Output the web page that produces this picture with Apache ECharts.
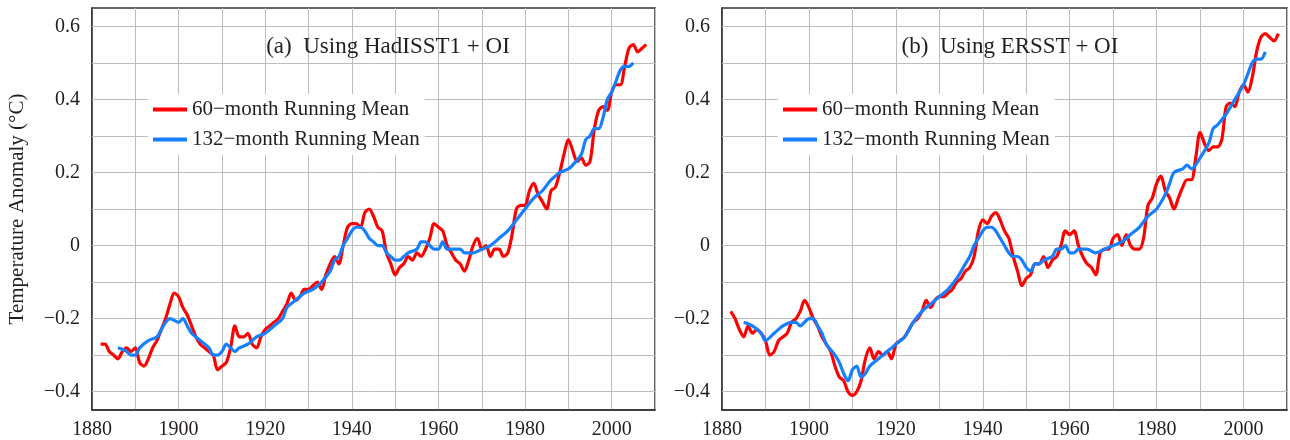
<!DOCTYPE html>
<html>
<head>
<meta charset="utf-8">
<script src="https://cdn.jsdelivr.net/npm/echarts@6/dist/echarts.min.js"></script>
<style>html,body{margin:0;padding:0;background:#fff}#main{width:1290px;height:440px}</style>
</head>
<body>
<div id="main"></div>
<script>
// panel (a): HadISST1 + OI
var redA = [[1882,-0.27],[1883,-0.27],[1884,-0.29],[1885,-0.30],[1886,-0.31],[1887,-0.29],[1888,-0.28],[1889,-0.29],[1890,-0.28],[1891,-0.32],[1892,-0.33],[1893,-0.31],[1894,-0.28],[1895,-0.26],[1896,-0.23],[1897,-0.20],[1898,-0.16],[1899,-0.13],[1900,-0.14],[1901,-0.17],[1902,-0.19],[1903,-0.22],[1904,-0.25],[1905,-0.27],[1906,-0.28],[1907,-0.29],[1908,-0.30],[1909,-0.34],[1910,-0.33],[1911,-0.32],[1912,-0.28],[1913,-0.22],[1914,-0.25],[1915,-0.25],[1916,-0.24],[1917,-0.27],[1918,-0.28],[1919,-0.25],[1920,-0.23],[1921,-0.22],[1922,-0.21],[1923,-0.20],[1924,-0.18],[1925,-0.16],[1926,-0.13],[1927,-0.15],[1928,-0.14],[1929,-0.12],[1930,-0.12],[1931,-0.11],[1932,-0.10],[1933,-0.12],[1934,-0.08],[1935,-0.05],[1936,-0.03],[1937,-0.05],[1938,0.00],[1939,0.05],[1940,0.06],[1941,0.06],[1942,0.05],[1943,0.09],[1944,0.10],[1945,0.08],[1946,0.05],[1947,0.04],[1948,-0.02],[1949,-0.05],[1950,-0.08],[1951,-0.06],[1952,-0.05],[1953,-0.03],[1954,-0.04],[1955,-0.02],[1956,-0.03],[1957,-0.01],[1958,0.02],[1959,0.06],[1960,0.05],[1961,0.04],[1962,0.00],[1963,-0.02],[1964,-0.04],[1965,-0.05],[1966,-0.07],[1967,-0.04],[1968,0.00],[1969,0.02],[1970,-0.01],[1971,0.00],[1972,-0.03],[1973,-0.01],[1974,-0.01],[1975,-0.03],[1976,-0.02],[1977,0.03],[1978,0.10],[1979,0.11],[1980,0.11],[1981,0.15],[1982,0.17],[1983,0.14],[1984,0.12],[1985,0.10],[1986,0.15],[1987,0.16],[1988,0.20],[1989,0.25],[1990,0.29],[1991,0.26],[1992,0.23],[1993,0.24],[1994,0.22],[1995,0.23],[1996,0.32],[1997,0.37],[1998,0.38],[1999,0.37],[2000,0.42],[2001,0.44],[2002,0.44],[2003,0.49],[2004,0.54],[2005,0.55],[2006,0.53],[2007,0.54],[2008,0.55]];
var blueA = [[1886,-0.28],[1888,-0.29],[1889,-0.30],[1890,-0.30],[1891,-0.28],[1893,-0.26],[1895,-0.25],[1896,-0.23],[1897,-0.21],[1898,-0.20],[1900,-0.21],[1901,-0.20],[1902,-0.22],[1903,-0.24],[1905,-0.26],[1907,-0.28],[1908,-0.30],[1909,-0.30],[1910,-0.29],[1911,-0.27],[1912,-0.28],[1913,-0.29],[1914,-0.28],[1916,-0.27],[1918,-0.25],[1920,-0.24],[1922,-0.22],[1924,-0.20],[1925,-0.17],[1927,-0.15],[1929,-0.13],[1931,-0.12],[1933,-0.10],[1935,-0.07],[1936,-0.04],[1937,-0.03],[1938,0.00],[1939,0.02],[1940,0.04],[1941,0.05],[1942,0.05],[1943,0.04],[1944,0.02],[1945,0.01],[1946,0.00],[1947,0.00],[1948,-0.02],[1949,-0.03],[1950,-0.04],[1951,-0.04],[1952,-0.03],[1953,-0.02],[1955,-0.01],[1956,0.01],[1957,0.01],[1958,0.00],[1959,-0.01],[1960,-0.01],[1961,0.01],[1962,-0.01],[1963,-0.01],[1965,-0.01],[1966,-0.02],[1968,-0.02],[1970,-0.01],[1972,0.00],[1974,0.02],[1976,0.04],[1978,0.07],[1980,0.10],[1982,0.13],[1984,0.15],[1986,0.18],[1987,0.19],[1988,0.20],[1990,0.21],[1991,0.22],[1993,0.25],[1994,0.29],[1995,0.30],[1996,0.32],[1997,0.32],[1998,0.35],[1999,0.40],[2000,0.42],[2001,0.45],[2002,0.48],[2003,0.49],[2004,0.49],[2005,0.50]];
// panel (b): ERSST + OI
var redB = [[1882,-0.18],[1883,-0.20],[1884,-0.23],[1885,-0.25],[1886,-0.22],[1887,-0.24],[1888,-0.23],[1889,-0.24],[1890,-0.26],[1891,-0.30],[1892,-0.29],[1893,-0.26],[1894,-0.25],[1895,-0.24],[1896,-0.21],[1897,-0.20],[1898,-0.18],[1899,-0.15],[1900,-0.17],[1901,-0.20],[1902,-0.22],[1903,-0.25],[1904,-0.27],[1905,-0.29],[1906,-0.33],[1907,-0.36],[1908,-0.37],[1909,-0.40],[1910,-0.41],[1911,-0.40],[1912,-0.37],[1913,-0.31],[1914,-0.28],[1915,-0.31],[1916,-0.29],[1917,-0.30],[1918,-0.29],[1919,-0.31],[1920,-0.27],[1921,-0.26],[1922,-0.25],[1923,-0.23],[1924,-0.21],[1925,-0.20],[1926,-0.18],[1927,-0.15],[1928,-0.17],[1929,-0.15],[1930,-0.14],[1931,-0.14],[1932,-0.13],[1933,-0.12],[1934,-0.10],[1935,-0.09],[1936,-0.07],[1937,-0.06],[1938,-0.03],[1939,0.04],[1940,0.07],[1941,0.06],[1942,0.08],[1943,0.09],[1944,0.07],[1945,0.04],[1946,0.02],[1947,-0.03],[1948,-0.07],[1949,-0.11],[1950,-0.09],[1951,-0.08],[1952,-0.05],[1953,-0.05],[1954,-0.03],[1955,-0.06],[1956,-0.04],[1957,-0.03],[1958,0.00],[1959,0.04],[1960,0.03],[1961,0.04],[1962,0.00],[1963,-0.03],[1964,-0.05],[1965,-0.06],[1966,-0.08],[1967,-0.02],[1968,-0.01],[1969,-0.01],[1970,0.02],[1971,0.03],[1972,0.00],[1973,0.03],[1974,0.00],[1975,-0.01],[1976,-0.01],[1977,0.02],[1978,0.11],[1979,0.13],[1980,0.17],[1981,0.19],[1982,0.15],[1983,0.13],[1984,0.10],[1985,0.13],[1986,0.16],[1987,0.18],[1988,0.18],[1989,0.24],[1990,0.31],[1991,0.28],[1992,0.26],[1993,0.27],[1994,0.27],[1995,0.29],[1996,0.38],[1997,0.39],[1998,0.38],[1999,0.42],[2000,0.44],[2001,0.42],[2002,0.46],[2003,0.53],[2004,0.57],[2005,0.58],[2006,0.57],[2007,0.56],[2008,0.58]];
var blueB = [[1885,-0.21],[1887,-0.22],[1889,-0.24],[1890,-0.26],[1892,-0.24],[1894,-0.22],[1896,-0.21],[1897,-0.21],[1898,-0.22],[1899,-0.21],[1900,-0.20],[1901,-0.20],[1902,-0.22],[1903,-0.24],[1904,-0.27],[1906,-0.30],[1907,-0.32],[1908,-0.35],[1909,-0.37],[1910,-0.34],[1911,-0.33],[1912,-0.36],[1913,-0.35],[1914,-0.33],[1916,-0.31],[1918,-0.29],[1920,-0.27],[1922,-0.25],[1924,-0.21],[1926,-0.18],[1928,-0.16],[1930,-0.14],[1932,-0.12],[1934,-0.09],[1936,-0.05],[1937,-0.03],[1938,0.00],[1939,0.02],[1940,0.04],[1941,0.05],[1942,0.05],[1943,0.04],[1944,0.02],[1945,0.00],[1946,-0.02],[1947,-0.03],[1948,-0.03],[1949,-0.04],[1950,-0.06],[1951,-0.07],[1952,-0.05],[1953,-0.05],[1954,-0.04],[1956,-0.03],[1957,-0.01],[1958,-0.01],[1959,0.00],[1960,-0.02],[1961,-0.02],[1962,-0.01],[1964,-0.01],[1966,-0.02],[1968,-0.01],[1970,0.00],[1972,0.01],[1974,0.03],[1976,0.05],[1978,0.08],[1980,0.10],[1982,0.14],[1983,0.17],[1984,0.20],[1986,0.21],[1987,0.22],[1988,0.21],[1990,0.24],[1992,0.28],[1993,0.32],[1994,0.33],[1996,0.36],[1998,0.40],[2000,0.44],[2001,0.47],[2002,0.50],[2003,0.51],[2004,0.51],[2005,0.53]];
var yGridValues = [-0.4,-0.3,-0.2,-0.1,0,0.1,0.2,0.3,0.4,0.5,0.6];
var titles = ['(a)  Using HadISST1 + OI', '(b)  Using ERSST + OI'];
var redName = '60\u2212month Running Mean', blueName = '132\u2212month Running Mean';

var font = 'Liberation Serif';
var fc = '#231f20';
function xAx(i){ return {type:'value', gridIndex:i, min:1880, max:2010, interval:10,
  axisLine:{onZero:false, lineStyle:{color:'#333',width:1.5}}, axisTick:{show:false},
  axisLabel:{fontFamily:font, fontSize:20, color:fc, margin:10, formatter:function(v){return v%20===0 && v<2010 ? v : '';}},
  splitLine:{show:true, lineStyle:{color:'#bdbdbd'}}}; }
function yAx(i){ return {type:'value', gridIndex:i, min:-0.45, max:0.65, interval:0.05,
  axisLine:{onZero:false, lineStyle:{color:'#333',width:1.5}}, axisTick:{show:false}, splitLine:{show:false},
  name: i===0 ? 'Temperature Anomaly (\u00B0C)' : '', nameLocation:'middle', nameGap:64, nameRotate:90,
  nameTextStyle:{fontFamily:font, fontSize:21, color:fc},
  axisLabel:{fontFamily:font, fontSize:20, color:fc, margin:12, formatter:function(v){
    var r=Math.round(v*100); if (r%20!==0) return ''; if (r===0) return '0'; return (r<0?'\u2212':'')+(Math.abs(r)/100).toFixed(1);}}}; }
function line(name,data,i,color,z,grid){ var s={name:name, type:'line', data:data, xAxisIndex:i, yAxisIndex:i,
  showSymbol:false, smooth:0.3, lineStyle:{color:color,width:3.2}, itemStyle:{color:color}, z:z};
  if (grid) s.markLine = {silent:true, symbol:'none', label:{show:false}, lineStyle:{color:'#bdbdbd',type:'solid',width:1},
    data: yGridValues.map(function(v){return {yAxis:v};}), z:1};
  return s; }

var chart = echarts.init(document.getElementById('main'));
chart.setOption({
  animation:false,
  grid:[{left:92, top:8, width:563, bottom:30, show:true, borderColor:'#333', borderWidth:1.5},
        {left:722, top:8, width:566, bottom:30, show:true, borderColor:'#333', borderWidth:1.5}],
  xAxis:[xAx(0), xAx(1)],
  yAxis:[yAx(0), yAx(1)],
  title:[{text:titles[0], left:383, top:30, textAlign:'center', textStyle:{fontFamily:font, fontSize:23, fontWeight:'normal', color:fc}},
         {text:titles[1], left:1005, top:30, textAlign:'center', textStyle:{fontFamily:font, fontSize:23, fontWeight:'normal', color:fc}}],
  legend:[{left:148, top:94, orient:'vertical', itemGap:9, itemWidth:34, itemHeight:4, icon:'rect',
           textStyle:{fontFamily:font, fontSize:21, color:fc}, data:[redName, blueName], backgroundColor:'#fff'},
          {left:778, top:94, orient:'vertical', itemGap:9, itemWidth:34, itemHeight:4, icon:'rect',
           textStyle:{fontFamily:font, fontSize:21, color:fc}, data:[redName, blueName], backgroundColor:'#fff'}],
  series:[line(redName, redA, 0, '#ff0000', 3, true), line(blueName, blueA, 0, '#1580ff', 4),
          line(redName, redB, 1, '#ff0000', 3, true), line(blueName, blueB, 1, '#1580ff', 4)]
});
</script>
</body>
</html>
